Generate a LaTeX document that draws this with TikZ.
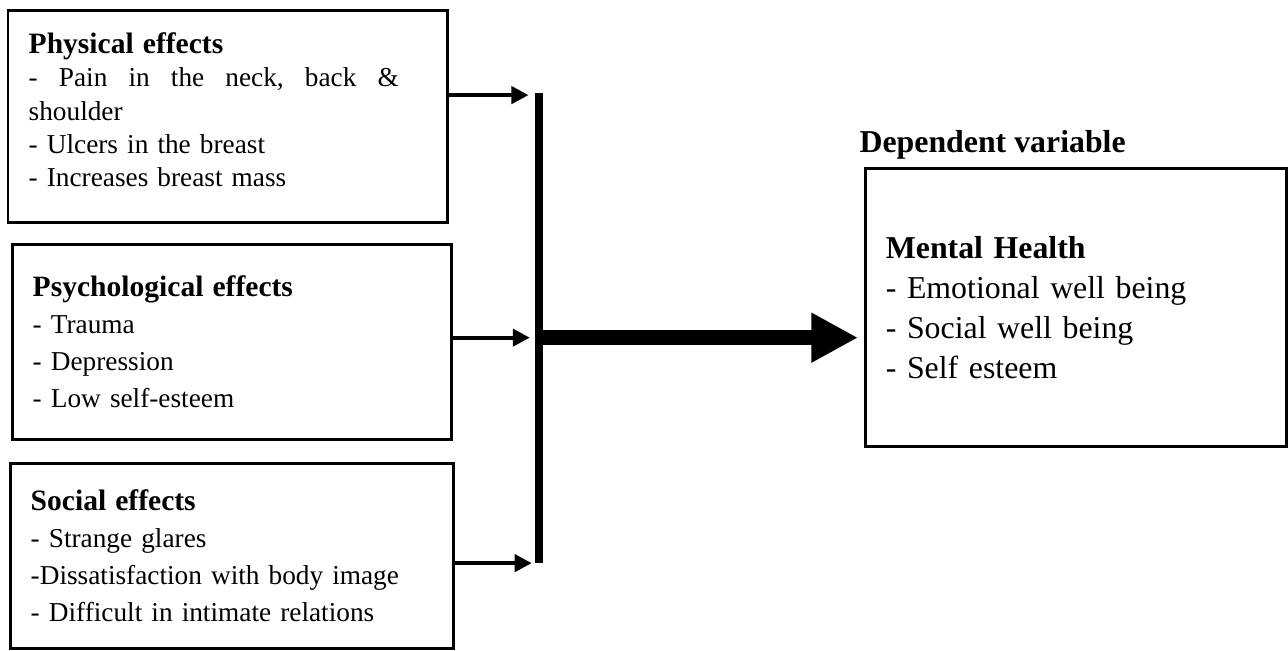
\documentclass[tikz,border=0pt]{standalone}
\usepackage{fontspec}
\setmainfont{Liberation Serif}
\usetikzlibrary{arrows.meta}

\begin{document}
\begin{tikzpicture}[
  effbox/.style={rectangle, draw, line width=1.3pt, anchor=north west,
                 outer sep=0pt, inner xsep=0.32cm, align=left,
                 font=\fontsize{12}{16.3}\selectfont},
  arr/.style={-{Triangle[length=7.5pt,width=7.5pt]}, line width=1.7pt},
  bar/.style={line width=3.5pt},
  bigarr/.style={-{Triangle[length=20.5pt,width=20.5pt]}, line width=6.6pt}
]
  \useasboundingbox (0,0) rectangle (19.91,10.05);

  % Effets (variables independantes)
  \node[effbox, text width=6.16cm, minimum height=3.28cm,
        font=\fontsize{12}{14.6}\selectfont] (phys) at (0.124,9.894)
    {{\bfseries\fontsize{13}{14.6}\selectfont Physical effects}\\
     \makebox[5.72cm][l]{-\hfill Pain\hfill in\hfill the\hfill neck,\hfill back\hfill \&}\\
     shoulder\\
     - Ulcers in the breast\\
     - Increases breast mass\rule[-5.7pt]{0pt}{5.7pt}};
  \node[effbox, text width=6.16cm, minimum height=3.015cm] (psych) at (0.186,6.277)
    {{\bfseries\fontsize{13}{16.3}\selectfont Psychological effects}\\
     - Trauma\\
     - Depression\\
     - Low self-esteem};
  \node[effbox, text width=6.21cm, minimum height=2.86cm] (soc) at (0.155,2.891)
    {{\bfseries\fontsize{13}{16.3}\selectfont Social effects}\\
     - Strange glares\\
     -Dissatisfaction with body image\\
     - Difficult in intimate relations};

  % Variable dependante
  \node[anchor=base west, inner sep=0pt, font=\bfseries\fontsize{14}{16}\selectfont] (dv)
    at (13.28,7.699) {Dependent variable};
  \node[effbox, text width=5.87cm, minimum height=4.30cm,
        font=\fontsize{14}{17.6}\selectfont] (mh) at (13.373,7.452)
    {{\bfseries Mental Health}\\
     - Emotional well being\\
     - Social well being\\
     - Self esteem};

  % Barre et fleches
  \coordinate (bartop) at (8.333,8.611);
  \coordinate (barbot) at (8.333,1.345);
  \draw[bar] (bartop) -- (barbot);
  \coordinate (in1) at (8.17,8.58);
  \coordinate (in2) at (8.19,4.83);
  \coordinate (in3) at (8.22,1.345);
  \foreach \b/\c in {phys/in1, psych/in2, soc/in3} {
    \draw[arr] (\b.east |- \c) -- (\c);
  }
  \coordinate (out) at (8.333,4.83);
  \draw[bigarr] (out) -- ([xshift=-0.11cm]mh.west |- out);
\end{tikzpicture}
\end{document}
